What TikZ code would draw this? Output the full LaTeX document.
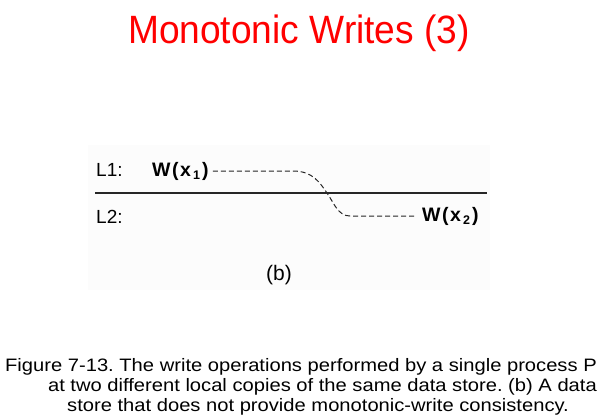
\documentclass[tikz,border=0pt]{standalone}
\usepackage{fontspec}
\setmainfont{Liberation Sans}
\newfontfamily\titlefont[FakeStretch=0.94]{Liberation Sans}
\newfontfamily\captionfont[FakeStretch=1.12]{Liberation Sans}
\usetikzlibrary{calc}
\newcommand{\wsub}[1]{\kern2.2pt\raisebox{-0.17em}{\fontsize{12.5}{13}\selectfont #1}\kern2pt}
\frenchspacing
\begin{document}
\begin{tikzpicture}[x=1pt,y=-1pt,
  lbl/.style={inner sep=0pt,font=\fontsize{19}{21}\selectfont},
  wlbl/.style={inner sep=0pt,font=\fontsize{19.5}{21}\selectfont\bfseries},
  captext/.style={inner sep=0pt,font=\captionfont\fontsize{18}{20}\selectfont},
  dashline/.style={line width=1pt,draw=black!85,dash pattern=on 5pt off 3pt},
  sepline/.style={line width=1.3pt,draw=black!85}]
\useasboundingbox (0,0) rectangle (600,418);
\fill[black!1] (88,145) rectangle (490,290);
\node[inner sep=0pt,anchor=base,text=red,font=\titlefont\fontsize{39.5}{42}\selectfont] (title) at (299,43) {Monotonic Writes (3)};
\node[lbl,anchor=base west] (l1) at (96,176) {L1:};
\node[lbl,anchor=base west] (l2) at (96,223) {L2:};
\node[wlbl,anchor=base west] (w1) at (152,176) {W\kern1.5pt(\kern1.5pt x\wsub{1})};
\node[wlbl,anchor=base west] (w2) at (422,221) {W\kern1.5pt(\kern1.5pt x\wsub{2})};
\coordinate (ls) at (95,193);
\coordinate (le) at (487,193);
\draw[sepline] (ls) -- (le);
\coordinate (a) at (293,171);
\coordinate (m) at (327,193);
\coordinate (b) at (350,216);
\draw[dashline] ($(w1.east |- a)+(4,0)$) -- (a) .. controls (313,171) and (320,183) .. (m) .. controls (334,203) and (338,216) .. (b) -- ($(w2.west |- b)+(-6,0)$);
\node[inner sep=0pt,font=\fontsize{21}{23}\selectfont,anchor=center] (bl) at (279,275) {(b)};
\node[captext,anchor=base east] (c1) at (597,371) {Figure 7-13. The write operations performed by a single process P};
\node[captext,anchor=base east] (c2) at (597,391) {at two different local copies of the same data store. (b) A data};
\node[captext,anchor=base west] (c3) at (67,411) {store that does not provide monotonic-write consistency.};
\end{tikzpicture}
\end{document}
